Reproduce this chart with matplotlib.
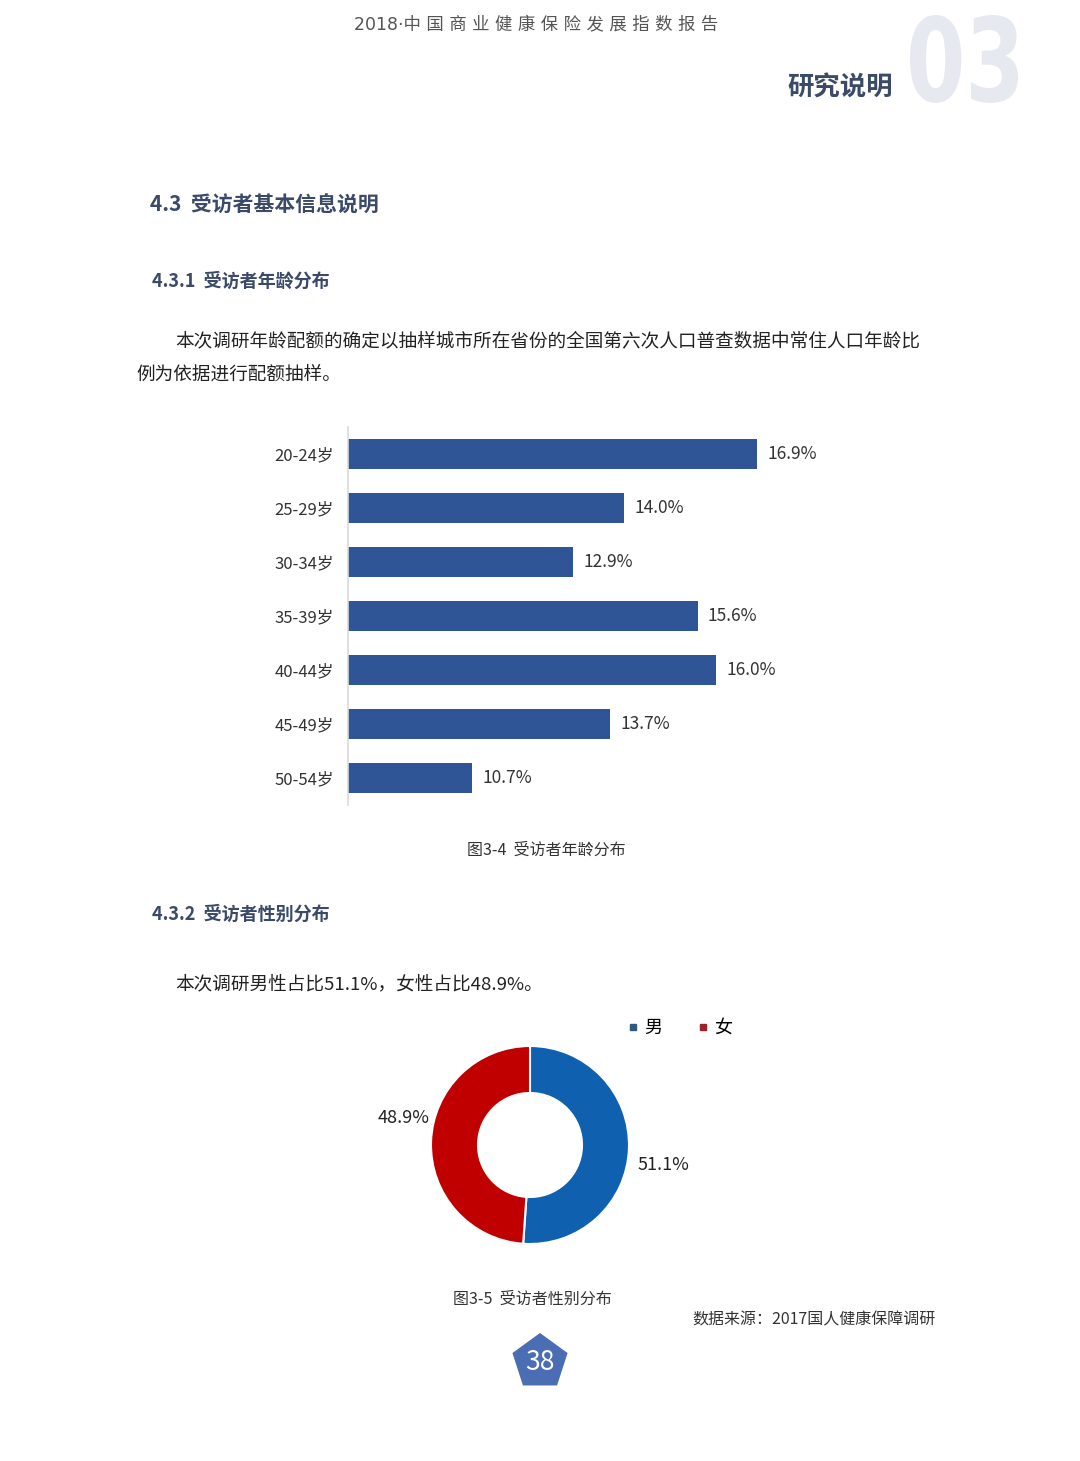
import numpy as np
import matplotlib
matplotlib.use("Agg")
import matplotlib.pyplot as plt
from matplotlib.patches import RegularPolygon, PathPatch
from matplotlib.textpath import TextPath
from matplotlib.font_manager import FontProperties
from matplotlib.transforms import Affine2D, IdentityTransform
from matplotlib.lines import Line2D

plt.rcParams['font.family'] = ['Noto Sans CJK SC', 'DejaVu Sans']

# data
age_groups = ['20-24岁', '25-29岁', '30-34岁', '35-39岁', '40-44岁', '45-49岁', '50-54岁']
age_share = [16.9, 14.0, 12.9, 15.6, 16.0, 13.7, 10.7]
gender_labels = ['男', '女']
gender_share = [51.1, 48.9]

bar_color = '#2f5597'
gender_colors = ['#1060b0', '#c00000']
head_color = '#3b4a68'
text_color = '#222222'

W, H = 1080, 1461
fig = plt.figure(figsize=(W / 100, H / 100), dpi=100)
fig.patch.set_facecolor('white')

def fx(x):
    return x / W

def fy(y):
    return 1 - y / H

# page header, spaced out a little like the printed page
header = '2018·中国商业健康保险发展指数报告'
fig.text(fx(536), fy(24), ' '.join(header).replace('2 0 1 8 · ', '2018·'), ha='center',
         va='center', fontsize=12.5, color='#555555',
         family=['DejaVu Sans', 'Noto Sans CJK SC'])
fig.text(fx(840), fy(88), '研究说明', ha='center', va='center', fontsize=19,
         fontweight='bold', color=head_color)

# big "03" drawn as a horizontally squeezed text path
tp = TextPath((0, 0), '03', size=1, prop=FontProperties(family='DejaVu Sans', weight='bold'))
bb = tp.get_extents()
sx = 108 / bb.width
sy = 88 / bb.height
tr = Affine2D().translate(-bb.x0, -bb.y0).scale(sx / W, sy / H).translate(fx(910), fy(103))
fig.patches.append(PathPatch(tr.transform_path(tp), transform=fig.transFigure,
                             facecolor='#e6e9f0', edgecolor='none'))

# section headings and text
fig.text(fx(150), fy(205), '4.3  受访者基本信息说明', ha='left', va='center', fontsize=15,
         fontweight='bold', color=head_color)
fig.text(fx(152), fy(281), '4.3.1  受访者年龄分布', ha='left', va='center', fontsize=13,
         fontweight='bold', color=head_color)
fig.text(fx(175), fy(341), '本次调研年龄配额的确定以抽样城市所在省份的全国第六次人口普查数据中常住人口年龄比',
         ha='left', va='center', fontsize=13.4, color=text_color)
fig.text(fx(136), fy(375), '例为依据进行配额抽样。', ha='left', va='center', fontsize=13.4,
         color=text_color)

# bar chart
ax = fig.add_axes([fx(348), fy(805), fx(552), 378 / H])
y = np.arange(len(age_groups))
ax.barh(y, np.array(age_share) - 8, left=8, height=0.56, color=bar_color)
ax.set_xlim(8, 20)
ax.set_ylim(6.5, -0.5)
ax.set_yticks(y)
ax.set_yticklabels(age_groups, fontsize=12, color='#333333')
ax.tick_params(axis='y', length=0, pad=10)
ax.set_xticks([])
for s in ['top', 'right', 'bottom']:
    ax.spines[s].set_visible(False)
ax.spines['left'].set_color('#d9d9d9')
ax.spines['left'].set_linewidth(1.2)
for yi, v in zip(y, age_share):
    ax.text(v + 0.22, yi, f'{v:.1f}%', ha='left', va='center', fontsize=12.5, color='#333333')

fig.text(fx(546), fy(850), '图3-4  受访者年龄分布', ha='center', va='center', fontsize=11.5,
         color='#333333')

fig.text(fx(152), fy(914), '4.3.2  受访者性别分布', ha='left', va='center', fontsize=13,
         fontweight='bold', color=head_color)
fig.text(fx(175), fy(984), '本次调研男性占比51.1%，女性占比48.9%。', ha='left', va='center',
         fontsize=13.4, color=text_color)

# donut chart
ax2 = fig.add_axes([fx(530 - 120), fy(1145 + 120), fx(240), 240 / H])
wedges, _ = ax2.pie(gender_share, colors=gender_colors, startangle=90, counterclock=False,
                    radius=0.99, wedgeprops=dict(width=0.47, edgecolor='white', linewidth=1.5))
ax2.set_xlim(-1.2, 1.2)
ax2.set_ylim(-1.2, 1.2)
ax2.set_aspect('equal')
ax2.axis('off')
ax2.text(1.33, -0.2, f'{gender_share[0]:.1f}%', ha='center', va='center', fontsize=13,
         color='#222222')
ax2.text(-1.26, 0.27, f'{gender_share[1]:.1f}%', ha='center', va='center', fontsize=13,
         color='#222222')

handles = [Line2D([], [], marker='s', linestyle='none', markersize=5, color=c)
           for c in ['#2e5a7e', '#a0202a']]
fig.legend(handles, gender_labels, loc='center', bbox_to_anchor=(fx(680), fy(1028)), ncol=2,
           frameon=False, fontsize=13, handlelength=0.6, handletextpad=0.3, columnspacing=2.0)

fig.text(fx(532), fy(1299), '图3-5  受访者性别分布', ha='center', va='center', fontsize=11.5,
         color='#333333')
fig.text(fx(814), fy(1320), '数据来源：2017国人健康保障调研', ha='center', va='center',
         fontsize=11.5, color='#333333')

# page number badge (pixel coordinates so it stays regular)
pent = RegularPolygon((540, H - 1362), numVertices=5, radius=29,
                      transform=IdentityTransform(), facecolor='#4a6db3', edgecolor='none')
fig.patches.append(pent)
fig.text(fx(540), fy(1362), '38', ha='center', va='center', fontsize=19, color='white')

fig.savefig('out.png', dpi=100)
